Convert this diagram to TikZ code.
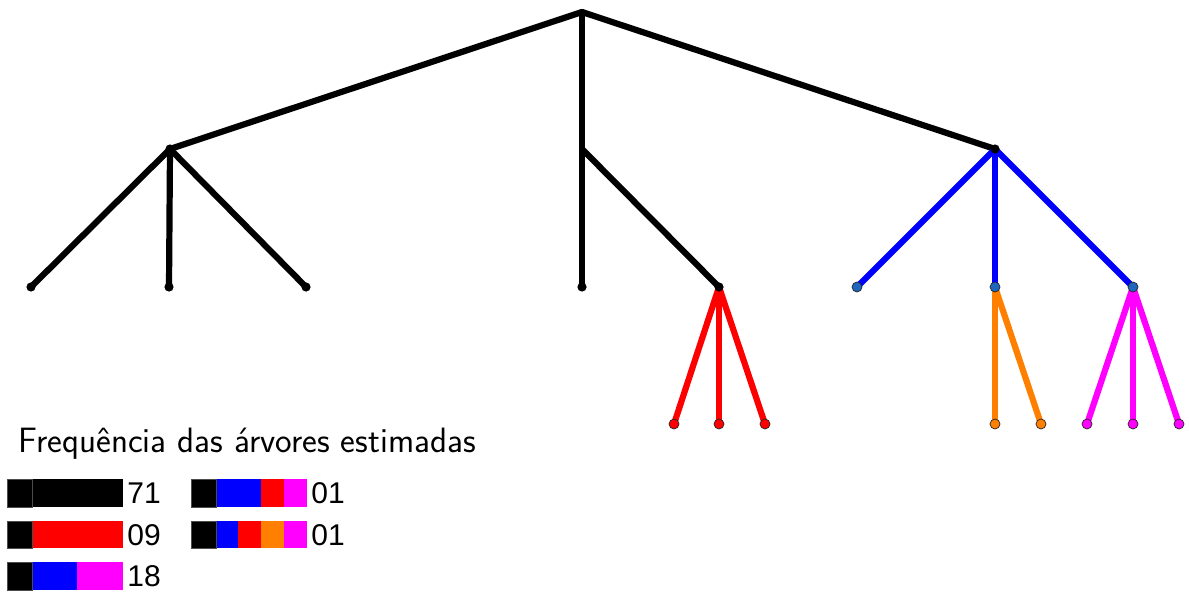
\documentclass[tikz,border=0pt]{standalone}
\usepackage{fontspec}
\newfontfamily\numfont{Liberation Sans}
\usepackage{xcolor}
\usetikzlibrary{positioning, backgrounds}
\definecolor{trblue}{HTML}{0000FF}
\definecolor{trred}{HTML}{FF0000}
\definecolor{trorange}{HTML}{FF8000}
\definecolor{trmagenta}{HTML}{FF00FF}
\definecolor{trsteel}{HTML}{1E66BE}
\tikzset{
  brline/.style={line width=3.1pt,line cap=round,line join=round},
  blkdot/.style={circle,fill=black,inner sep=0pt,minimum size=4.6pt},
  coldot/.style={circle,draw=black!85,line width=0.35pt,inner sep=0pt,minimum size=5pt},
  bluedot/.style={coldot,fill=trsteel},
  reddot/.style={coldot,fill=trred},
  orgdot/.style={coldot,fill=trorange},
  magdot/.style={coldot,fill=trmagenta},
  barsq/.style={fill=black,draw=black!70,line width=0.4pt},
  freqlbl/.style={anchor=west,inner sep=0pt,font=\numfont\fontsize{15}{18}\selectfont},
}

\begin{document}
\begin{tikzpicture}[x=0.5pt,y=-0.5pt]
  \useasboundingbox (0,0) rectangle (1189,594);
  % tree
  \coordinate (nRoot) at (582,12);
  \node[blkdot] (nL) at (170,149) {};
  \coordinate (nM) at (582,149);
  \node[blkdot] (nR) at (995,149) {};
  \node[blkdot] (nL1) at (31,287) {};
  \node[blkdot] (nL2) at (169,287) {};
  \node[blkdot] (nL3) at (306,287) {};
  \node[blkdot] (nM1) at (582,287) {};
  \node[blkdot] (nM2) at (719,287) {};
  \node[bluedot] (nR1) at (857,287) {};
  \node[bluedot] (nR2) at (995,287) {};
  \node[bluedot] (nR3) at (1133,287) {};
  \node[reddot] (nM21) at (674,424) {};
  \node[reddot] (nM22) at (719,424) {};
  \node[reddot] (nM23) at (765,424) {};
  \node[orgdot] (nR21) at (995,424) {};
  \node[orgdot] (nR22) at (1041,424) {};
  \node[magdot] (nR31) at (1087,424) {};
  \node[magdot] (nR32) at (1133,424) {};
  \node[magdot] (nR33) at (1179,424) {};
  \begin{scope}[on background layer]
    \draw[brline] (nL.center) -- (nRoot) -- (nR.center);
    \draw[brline] (nRoot) -- (nM1.center);
    \draw[brline] (nM) -- (nM2.center);
    \draw[brline] (nL.center) -- (nL1.center);
    \draw[brline] (nL.center) -- (nL2.center);
    \draw[brline] (nL.center) -- (nL3.center);
    \draw[brline,trblue] (nR.center) -- (nR1.center);
    \draw[brline,trblue] (nR.center) -- (nR2.center);
    \draw[brline,trblue] (nR.center) -- (nR3.center);
    \draw[brline,trred] (nM2.center) -- (nM21.center);
    \draw[brline,trred] (nM2.center) -- (nM22.center);
    \draw[brline,trred] (nM2.center) -- (nM23.center);
    \draw[brline,trorange] (nR2.center) -- (nR21.center);
    \draw[brline,trorange] (nR2.center) -- (nR22.center);
    \draw[brline,trmagenta] (nR3.center) -- (nR31.center);
    \draw[brline,trmagenta] (nR3.center) -- (nR32.center);
    \draw[brline,trmagenta] (nR3.center) -- (nR33.center);
  \end{scope}
  % legend
  \node[anchor=base west,inner sep=0pt,font=\sffamily\fontsize{17.6}{21}\selectfont] (nTitle) at (18,452) {Frequência das árvores estimadas};
  \fill (32,479) rectangle (123,507);
  \draw[barsq] (7,479) rectangle (32,507);
  \fill[trred] (32,521) rectangle (123,548);
  \draw[barsq] (7,521) rectangle (32,548);
  \fill[trblue] (32,562) rectangle (77,590);
  \fill[trmagenta] (77,562) rectangle (123,590);
  \draw[barsq] (7,562) rectangle (32,590);
  \fill[trblue] (216,479) rectangle (261,507);
  \fill[trred] (261,479) rectangle (284,507);
  \fill[trmagenta] (284,479) rectangle (307,507);
  \draw[barsq] (191,479) rectangle (216,507);
  \fill[trblue] (216,521) rectangle (238,548);
  \fill[trred] (238,521) rectangle (261,548);
  \fill[trorange] (261,521) rectangle (284,548);
  \fill[trmagenta] (284,521) rectangle (307,548);
  \draw[barsq] (191,521) rectangle (216,548);
  \node[freqlbl] (f71) at (127,493) {71};
  \node[freqlbl] (f09) at (127,535) {09};
  \node[freqlbl] (f18) at (127,576) {18};
  \node[freqlbl] (f01a) at (311,493) {01};
  \node[freqlbl] (f01b) at (311,535) {01};
\end{tikzpicture}
\end{document}
